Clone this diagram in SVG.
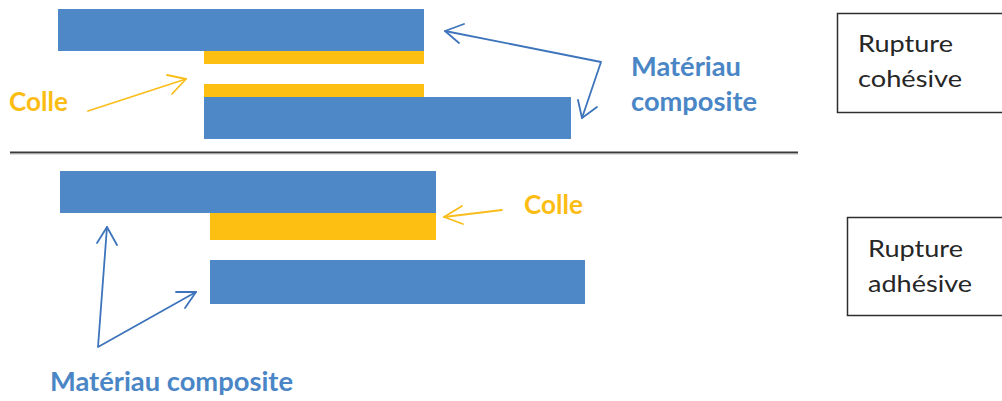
<svg xmlns="http://www.w3.org/2000/svg" width="1002" height="401" viewBox="0 0 1002 401">
  <style>
    .blue { fill: #4e88c6; }
    .glue { fill: #fcbf12; }
    .lbl-blue { font-family: Lato, "Open Sans", sans-serif; font-weight: bold; font-size: 26px; fill: #4a86c6; }
    .lbl-glue { font-family: Lato, "Open Sans", sans-serif; font-weight: bold; font-size: 26px; fill: #fbbd14; }
    .box { fill: #ffffff; stroke: #2e2e2e; stroke-width: 1.5; }
    .box-text { font-family: Lato, "Open Sans", sans-serif; font-size: 23.5px; fill: #262626; }
    .arrow-blue { fill: none; stroke: #3d74bb; stroke-width: 1.8; stroke-linecap: round; stroke-linejoin: round; }
    .arrow-glue { fill: none; stroke: #f9bd1c; stroke-width: 1.8; stroke-linecap: round; stroke-linejoin: round; }
  </style>

  <!-- Cohesive failure: adhesive layer split inside itself -->
  <g id="cohesive-joint">
    <rect class="blue" x="58" y="9" width="366" height="42"/>
    <rect class="glue" x="204" y="51" width="220" height="13"/>
    <rect class="glue" x="204" y="84" width="220" height="13"/>
    <rect class="blue" x="204" y="97" width="367" height="42"/>
  </g>

  <g id="label-colle-top">
    <text class="lbl-glue" x="9" y="111" textLength="59" lengthAdjust="spacingAndGlyphs">Colle</text>
  </g>

  <g id="label-composite-top">
    <text class="lbl-blue" x="631" y="76" textLength="110" lengthAdjust="spacingAndGlyphs">Matériau</text>
    <text class="lbl-blue" x="631" y="111" textLength="126" lengthAdjust="spacingAndGlyphs">composite</text>
  </g>

  <g id="box-cohesive">
    <rect class="box" x="837.5" y="13.5" width="170" height="99"/>
    <text class="box-text" x="858" y="52" textLength="95" lengthAdjust="spacingAndGlyphs">Rupture</text>
    <text class="box-text" x="858" y="87" textLength="104" lengthAdjust="spacingAndGlyphs">cohésive</text>
  </g>

  <!-- Divider between the two cases -->
  <g id="divider">
    <line x1="10" y1="152.5" x2="798" y2="152.5" stroke="#3a3a3a" stroke-width="2"/>
    <line x1="10" y1="154" x2="798" y2="154" stroke="#b0b0b0" stroke-width="0.8"/>
  </g>

  <!-- Adhesive failure: glue stays on one substrate -->
  <g id="adhesive-joint">
    <rect class="blue" x="60" y="171" width="376" height="42"/>
    <rect class="glue" x="210" y="213" width="226" height="27"/>
    <rect class="blue" x="210" y="260" width="375" height="44"/>
  </g>

  <g id="label-colle-bottom">
    <text class="lbl-glue" x="524" y="214" textLength="59" lengthAdjust="spacingAndGlyphs">Colle</text>
  </g>

  <g id="label-composite-bottom">
    <text class="lbl-blue" x="50" y="391" textLength="243" lengthAdjust="spacingAndGlyphs">Matériau composite</text>
  </g>

  <g id="box-adhesive">
    <rect class="box" x="847.5" y="217.5" width="160" height="98"/>
    <text class="box-text" x="868" y="257" textLength="95" lengthAdjust="spacingAndGlyphs">Rupture</text>
    <text class="box-text" x="868" y="292" textLength="104" lengthAdjust="spacingAndGlyphs">adhésive</text>
  </g>

  <!-- Connectors: open arrowheads drawn as polylines -->
  <g id="connectors">
    <!-- Colle (top) -->
    <line class="arrow-glue" x1="88" y1="111" x2="186" y2="79"/>
    <polyline class="arrow-glue" points="167,75 186,79 172,94"/>
    <!-- Matériau composite (top) -->
    <polyline class="arrow-blue" points="445,31 601,62 582,118"/>
    <polyline class="arrow-blue" points="464,24 445,31 459,43"/>
    <polyline class="arrow-blue" points="578,100 582,118 597,107"/>
    <!-- Colle (bottom) -->
    <line class="arrow-glue" x1="502" y1="210" x2="444" y2="217"/>
    <polyline class="arrow-glue" points="462,206 444,217 463,224"/>
    <!-- Matériau composite (bottom) -->
    <polyline class="arrow-blue" points="107,227 98,347 196,292"/>
    <polyline class="arrow-blue" points="97,243 107,227 117,245"/>
    <polyline class="arrow-blue" points="176,292 196,292 185,308"/>
  </g>
</svg>
